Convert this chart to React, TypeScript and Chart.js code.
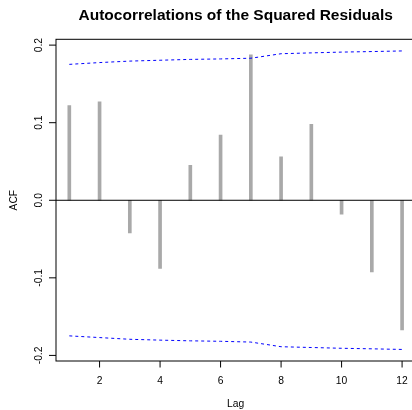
import React, { useEffect, useRef } from "react";
import { Chart, registerables } from "chart.js";

Chart.register(...registerables);

const chartTitle = "Autocorrelations of the Squared Residuals";
const xAxisTitle = "Lag";
const yAxisTitle = "ACF";
const lags = [1, 2, 3, 4, 5, 6, 7, 8, 9, 10, 11, 12];
const acfValues = [0.122, 0.127, -0.042, -0.088, 0.045, 0.084, 0.1875, 0.056, 0.098, -0.018, -0.0925, -0.167];
const upperBound = [0.1752, 0.1775, 0.1794, 0.1805, 0.1816, 0.1822, 0.1831, 0.1889, 0.19, 0.191, 0.1917, 0.1925];
const lowerBound = [-0.1748, -0.177, -0.1792, -0.1803, -0.1812, -0.1818, -0.1828, -0.1888, -0.1898, -0.1908, -0.1915, -0.1923];
const xTicks = [2, 4, 6, 8, 10, 12];
const xTickLabels = ["2", "4", "6", "8", "10", "12"];
const yTicks = [-0.2, -0.1, 0, 0.1, 0.2];
const yTickLabels = ["-0.2", "-0.1", "0.0", "0.1", "0.2"];

const FONT = '"Liberation Sans", Arial, Helvetica, sans-serif';

const rStylePlugin = {
  id: "rStyle",
  afterDatasetsDraw(chart: any) {
    const { ctx, chartArea, scales } = chart;
    const y0 = scales.y.getPixelForValue(0);
    ctx.save();
    ctx.strokeStyle = "#000";
    ctx.lineWidth = 1;
    ctx.beginPath();
    ctx.moveTo(chartArea.left, y0);
    ctx.lineTo(chartArea.right, y0);
    ctx.stroke();
    ctx.restore();
  },
  afterDraw(chart: any) {
    const { ctx, chartArea, scales } = chart;
    const { left, right, top, bottom } = chartArea;
    const xs = scales.x;
    const ys = scales.y;
    ctx.save();
    ctx.strokeStyle = "#000";
    ctx.lineWidth = 1;
    ctx.strokeRect(left, top, right - left, bottom - top);

    // ticks
    ctx.beginPath();
    xTicks.forEach((t) => {
      const px = xs.getPixelForValue(t);
      ctx.moveTo(px, bottom);
      ctx.lineTo(px, bottom + 6.5);
    });
    yTicks.forEach((t) => {
      const py = ys.getPixelForValue(t);
      ctx.moveTo(left, py);
      ctx.lineTo(left - 7, py);
    });
    ctx.stroke();

    ctx.fillStyle = "#000";
    ctx.font = `10.3px ${FONT}`;
    ctx.textAlign = "center";
    ctx.textBaseline = "alphabetic";
    xTicks.forEach((t, i) => {
      ctx.fillText(xTickLabels[i], xs.getPixelForValue(t), 384);
    });
    yTicks.forEach((t, i) => {
      const py = ys.getPixelForValue(t);
      ctx.save();
      ctx.translate(41.5, py);
      ctx.rotate(-Math.PI / 2);
      ctx.fillText(yTickLabels[i], 0, 0);
      ctx.restore();
    });

    // axis titles
    ctx.fillText(xAxisTitle, (left + right) / 2, 407);
    ctx.save();
    ctx.translate(17.3, (top + bottom) / 2);
    ctx.rotate(-Math.PI / 2);
    ctx.fillText(yAxisTitle, 0, 0);
    ctx.restore();

    // title
    ctx.font = `bold 15.5px ${FONT}`;
    ctx.fillText(chartTitle, (left + right) / 2, 20);
    ctx.restore();
  },
};

export default function App() {
  const canvasRef = useRef<HTMLCanvasElement | null>(null);

  useEffect(() => {
    const canvas = canvasRef.current;
    if (!canvas) return;
    const chart = new Chart(canvas, {
      type: "bar",
      data: {
        datasets: [
          {
            type: "line",
            data: lags.map((l, i) => ({ x: l, y: upperBound[i] })),
            borderColor: "#0000ff",
            borderWidth: 1,
            borderDash: [3, 3],
            pointRadius: 0,
            fill: false,
            tension: 0,
          } as any,
          {
            type: "line",
            data: lags.map((l, i) => ({ x: l, y: lowerBound[i] })),
            borderColor: "#0000ff",
            borderWidth: 1,
            borderDash: [3, 3],
            pointRadius: 0,
            fill: false,
            tension: 0,
          } as any,
          {
            type: "bar",
            data: lags.map((l, i) => ({ x: l, y: acfValues[i] })),
            backgroundColor: "#a9a9a9",
            borderWidth: 0,
            barThickness: 3,
          } as any,
        ],
      },
      options: {
        responsive: false,
        animation: false,
        devicePixelRatio: 1,
        layout: { padding: { left: 56, right: 14.6, top: 39.3, bottom: 49 } },
        plugins: {
          legend: { display: false },
          tooltip: { enabled: false },
          title: { display: false },
        },
        scales: {
          x: {
            type: "linear",
            display: false,
            offset: false,
            min: 0.56,
            max: 12.44,
            grid: { display: false, offset: false },
          },
          y: {
            type: "linear",
            display: false,
            min: -0.2072,
            max: 0.2075,
            grid: { display: false },
          },
        },
      } as any,
      plugins: [rStylePlugin],
    });
    return () => chart.destroy();
  }, []);

  return (
    <div
      style={{
        position: "absolute",
        left: 0,
        top: 0,
        width: 412,
        height: 410,
        overflow: "hidden",
        background: "#fff",
      }}
    >
      <canvas ref={canvasRef} width={430} height={410} style={{ display: "block" }} />
    </div>
  );
}
